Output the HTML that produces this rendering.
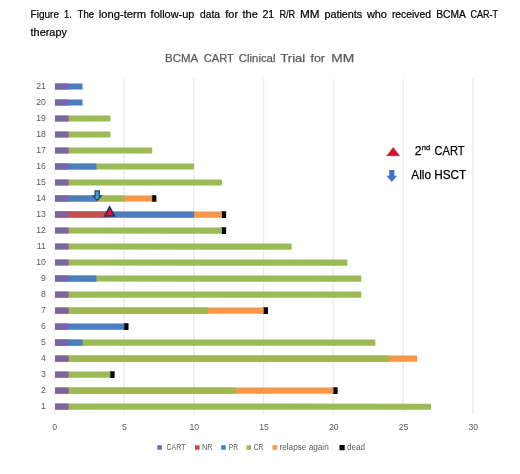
<!DOCTYPE html>
<html lang="en"><head><meta charset="utf-8"><title>Figure 1</title>
<style>html,body{margin:0;padding:0;background:#fff;}body{width:520px;height:474px;overflow:hidden;}svg{display:block;}text{font-family:"Liberation Sans",sans-serif;}</style></head><body>
<svg width="520" height="474" viewBox="0 0 520 474">
<rect width="520" height="474" fill="#fff"/>
<g transform="matrix(1,0.0002,0,1,0,0)">
<text y="18" font-size="11" fill="#000" stroke="#000" stroke-width="0.22"><tspan x="30.60" textLength="28.40" lengthAdjust="spacingAndGlyphs">Figure</tspan> <tspan x="64.10" textLength="7.90" lengthAdjust="spacingAndGlyphs">1.</tspan> <tspan x="77.60" textLength="16.60" lengthAdjust="spacingAndGlyphs">The</tspan> <tspan x="98.80" textLength="47.20" lengthAdjust="spacingAndGlyphs">long-term</tspan> <tspan x="150.60" textLength="43.80" lengthAdjust="spacingAndGlyphs">follow-up</tspan> <tspan x="200.00" textLength="20.00" lengthAdjust="spacingAndGlyphs">data</tspan> <tspan x="225.25" textLength="12.85" lengthAdjust="spacingAndGlyphs">for</tspan> <tspan x="242.50" textLength="15.50" lengthAdjust="spacingAndGlyphs">the</tspan> <tspan x="262.50" textLength="11.70" lengthAdjust="spacingAndGlyphs">21</tspan> <tspan x="279.40" textLength="15.85" lengthAdjust="spacingAndGlyphs">R/R</tspan> <tspan x="300.00" textLength="19.60" lengthAdjust="spacingAndGlyphs">MM</tspan> <tspan x="324.40" textLength="37.85" lengthAdjust="spacingAndGlyphs">patients</tspan> <tspan x="366.90" textLength="20.00" lengthAdjust="spacingAndGlyphs">who</tspan> <tspan x="391.90" textLength="39.10" lengthAdjust="spacingAndGlyphs">received</tspan> <tspan x="436.25" textLength="28.95" lengthAdjust="spacingAndGlyphs">BCMA</tspan> <tspan x="470.60" textLength="27.50" lengthAdjust="spacingAndGlyphs">CAR-T</tspan></text>
<text x="30.6" y="35.6" font-size="11" fill="#000" stroke="#000" stroke-width="0.22" textLength="36.3" lengthAdjust="spacingAndGlyphs">therapy</text>
<text y="62.2" font-size="11.6" fill="#595959" stroke="#595959" stroke-width="0.25"><tspan x="165.00" textLength="32.50" lengthAdjust="spacingAndGlyphs">BCMA</tspan> <tspan x="203.75" textLength="30.00" lengthAdjust="spacingAndGlyphs">CART</tspan> <tspan x="238.75" textLength="36.75" lengthAdjust="spacingAndGlyphs">Clinical</tspan> <tspan x="280.50" textLength="24.50" lengthAdjust="spacingAndGlyphs">Trial</tspan> <tspan x="310.50" textLength="14.50" lengthAdjust="spacingAndGlyphs">for</tspan> <tspan x="331.25" textLength="23.00" lengthAdjust="spacingAndGlyphs">MM</tspan></text>
<rect x="53.50" y="78.40" width="1.5" height="335.80" fill="#F4F4F4"/>
<rect x="123.27" y="78.40" width="1.5" height="335.80" fill="#EDEDED"/>
<rect x="193.03" y="78.40" width="1.5" height="335.80" fill="#EDEDED"/>
<rect x="262.79" y="78.40" width="1.5" height="335.80" fill="#EDEDED"/>
<rect x="332.56" y="78.40" width="1.5" height="335.80" fill="#EDEDED"/>
<rect x="402.32" y="78.40" width="1.5" height="335.80" fill="#EDEDED"/>
<rect x="472.09" y="78.40" width="1.5" height="335.80" fill="#EDEDED"/>
<rect x="55.10" y="403.55" width="375.93" height="6.1" fill="#99BA56"/>
<rect x="55.10" y="403.55" width="13.49" height="6.1" fill="#7F62A3"/>
<rect x="332.75" y="387.30" width="4.88" height="6.6" fill="#000000"/>
<rect x="55.10" y="387.55" width="278.35" height="6.1" fill="#F79646"/>
<rect x="55.10" y="387.55" width="180.77" height="6.1" fill="#99BA56"/>
<rect x="55.10" y="387.55" width="13.49" height="6.1" fill="#7F62A3"/>
<rect x="109.71" y="371.29" width="4.88" height="6.6" fill="#000000"/>
<rect x="55.10" y="371.54" width="55.31" height="6.1" fill="#99BA56"/>
<rect x="55.10" y="371.54" width="13.49" height="6.1" fill="#7F62A3"/>
<rect x="55.10" y="355.54" width="361.99" height="6.1" fill="#F79646"/>
<rect x="55.10" y="355.54" width="334.11" height="6.1" fill="#99BA56"/>
<rect x="55.10" y="355.54" width="13.49" height="6.1" fill="#7F62A3"/>
<rect x="55.10" y="339.53" width="320.17" height="6.1" fill="#99BA56"/>
<rect x="55.10" y="339.53" width="27.43" height="6.1" fill="#4A7EC2"/>
<rect x="55.10" y="339.53" width="13.49" height="6.1" fill="#7F62A3"/>
<rect x="123.65" y="323.28" width="4.88" height="6.6" fill="#000000"/>
<rect x="55.10" y="323.53" width="69.25" height="6.1" fill="#4A7EC2"/>
<rect x="55.10" y="323.53" width="13.49" height="6.1" fill="#7F62A3"/>
<rect x="263.05" y="307.27" width="4.88" height="6.6" fill="#000000"/>
<rect x="55.10" y="307.52" width="208.65" height="6.1" fill="#F79646"/>
<rect x="55.10" y="307.52" width="152.89" height="6.1" fill="#99BA56"/>
<rect x="55.10" y="307.52" width="13.49" height="6.1" fill="#7F62A3"/>
<rect x="55.10" y="291.52" width="306.23" height="6.1" fill="#99BA56"/>
<rect x="55.10" y="291.52" width="13.49" height="6.1" fill="#7F62A3"/>
<rect x="55.10" y="275.51" width="306.23" height="6.1" fill="#99BA56"/>
<rect x="55.10" y="275.51" width="41.37" height="6.1" fill="#4A7EC2"/>
<rect x="55.10" y="275.51" width="13.49" height="6.1" fill="#7F62A3"/>
<rect x="55.10" y="259.51" width="292.29" height="6.1" fill="#99BA56"/>
<rect x="55.10" y="259.51" width="13.49" height="6.1" fill="#7F62A3"/>
<rect x="55.10" y="243.50" width="236.53" height="6.1" fill="#99BA56"/>
<rect x="55.10" y="243.50" width="13.49" height="6.1" fill="#7F62A3"/>
<rect x="221.23" y="227.25" width="4.88" height="6.6" fill="#000000"/>
<rect x="55.10" y="227.50" width="166.83" height="6.1" fill="#99BA56"/>
<rect x="55.10" y="227.50" width="13.49" height="6.1" fill="#7F62A3"/>
<rect x="221.23" y="211.24" width="4.88" height="6.6" fill="#000000"/>
<rect x="55.10" y="211.49" width="166.83" height="6.1" fill="#F79646"/>
<rect x="55.10" y="211.49" width="138.95" height="6.1" fill="#4A7EC2"/>
<rect x="55.10" y="211.49" width="55.31" height="6.1" fill="#C44E4A"/>
<rect x="55.10" y="211.49" width="13.49" height="6.1" fill="#7F62A3"/>
<rect x="151.53" y="195.24" width="4.88" height="6.6" fill="#000000"/>
<rect x="55.10" y="195.49" width="97.13" height="6.1" fill="#F79646"/>
<rect x="55.10" y="195.49" width="69.25" height="6.1" fill="#99BA56"/>
<rect x="55.10" y="195.49" width="41.37" height="6.1" fill="#4A7EC2"/>
<rect x="55.10" y="195.49" width="13.49" height="6.1" fill="#7F62A3"/>
<rect x="55.10" y="179.48" width="166.83" height="6.1" fill="#99BA56"/>
<rect x="55.10" y="179.48" width="13.49" height="6.1" fill="#7F62A3"/>
<rect x="55.10" y="163.48" width="138.95" height="6.1" fill="#99BA56"/>
<rect x="55.10" y="163.48" width="41.37" height="6.1" fill="#4A7EC2"/>
<rect x="55.10" y="163.48" width="13.49" height="6.1" fill="#7F62A3"/>
<rect x="55.10" y="147.47" width="97.13" height="6.1" fill="#99BA56"/>
<rect x="55.10" y="147.47" width="13.49" height="6.1" fill="#7F62A3"/>
<rect x="55.10" y="131.47" width="55.31" height="6.1" fill="#99BA56"/>
<rect x="55.10" y="131.47" width="13.49" height="6.1" fill="#7F62A3"/>
<rect x="55.10" y="115.46" width="55.31" height="6.1" fill="#99BA56"/>
<rect x="55.10" y="115.46" width="13.49" height="6.1" fill="#7F62A3"/>
<rect x="55.10" y="99.46" width="27.43" height="6.1" fill="#4A7EC2"/>
<rect x="55.10" y="99.46" width="13.49" height="6.1" fill="#7F62A3"/>
<rect x="55.10" y="83.45" width="27.43" height="6.1" fill="#4A7EC2"/>
<rect x="55.10" y="83.45" width="13.49" height="6.1" fill="#7F62A3"/>
<text x="45.9" y="409.45" font-size="8.7" fill="#595959"  text-anchor="end">1</text>
<text x="45.9" y="393.45" font-size="8.7" fill="#595959"  text-anchor="end">2</text>
<text x="45.9" y="377.44" font-size="8.7" fill="#595959"  text-anchor="end">3</text>
<text x="45.9" y="361.44" font-size="8.7" fill="#595959"  text-anchor="end">4</text>
<text x="45.9" y="345.43" font-size="8.7" fill="#595959"  text-anchor="end">5</text>
<text x="45.9" y="329.43" font-size="8.7" fill="#595959"  text-anchor="end">6</text>
<text x="45.9" y="313.42" font-size="8.7" fill="#595959"  text-anchor="end">7</text>
<text x="45.9" y="297.42" font-size="8.7" fill="#595959"  text-anchor="end">8</text>
<text x="45.9" y="281.41" font-size="8.7" fill="#595959"  text-anchor="end">9</text>
<text x="45.9" y="265.41" font-size="8.7" fill="#595959"  text-anchor="end">10</text>
<text x="45.9" y="249.40" font-size="8.7" fill="#595959"  text-anchor="end">11</text>
<text x="45.9" y="233.40" font-size="8.7" fill="#595959"  text-anchor="end">12</text>
<text x="45.9" y="217.39" font-size="8.7" fill="#595959"  text-anchor="end">13</text>
<text x="45.9" y="201.39" font-size="8.7" fill="#595959"  text-anchor="end">14</text>
<text x="45.9" y="185.38" font-size="8.7" fill="#595959"  text-anchor="end">15</text>
<text x="45.9" y="169.38" font-size="8.7" fill="#595959"  text-anchor="end">16</text>
<text x="45.9" y="153.37" font-size="8.7" fill="#595959"  text-anchor="end">17</text>
<text x="45.9" y="137.37" font-size="8.7" fill="#595959"  text-anchor="end">18</text>
<text x="45.9" y="121.36" font-size="8.7" fill="#595959"  text-anchor="end">19</text>
<text x="45.9" y="105.36" font-size="8.7" fill="#595959"  text-anchor="end">20</text>
<text x="45.9" y="89.35" font-size="8.7" fill="#595959"  text-anchor="end">21</text>
<text x="54.75" y="429.7" font-size="8.7" fill="#595959"  text-anchor="middle">0</text>
<text x="124.52" y="429.7" font-size="8.7" fill="#595959"  text-anchor="middle">5</text>
<text x="194.28" y="429.7" font-size="8.7" fill="#595959"  text-anchor="middle">10</text>
<text x="264.04" y="429.7" font-size="8.7" fill="#595959"  text-anchor="middle">15</text>
<text x="333.81" y="429.7" font-size="8.7" fill="#595959"  text-anchor="middle">20</text>
<text x="403.57" y="429.7" font-size="8.7" fill="#595959"  text-anchor="middle">25</text>
<text x="473.34" y="429.7" font-size="8.7" fill="#595959"  text-anchor="middle">30</text>
<rect x="157.3" y="445.20" width="4.6" height="4.6" fill="#7F62A3"/>
<text x="166.5" y="449.7" font-size="8.3" fill="#595959"  textLength="19.0" lengthAdjust="spacingAndGlyphs">CART</text>
<rect x="195" y="445.20" width="4.6" height="4.6" fill="#C44E4A"/>
<text x="202" y="449.7" font-size="8.3" fill="#595959"  textLength="10.5" lengthAdjust="spacingAndGlyphs">NR</text>
<rect x="221.2" y="445.20" width="4.6" height="4.6" fill="#4A7EC2"/>
<text x="228.75" y="449.7" font-size="8.3" fill="#595959"  textLength="9.25" lengthAdjust="spacingAndGlyphs">PR</text>
<rect x="246.4" y="445.20" width="4.6" height="4.6" fill="#99BA56"/>
<text x="253.75" y="449.7" font-size="8.3" fill="#595959"  textLength="9.5" lengthAdjust="spacingAndGlyphs">CR</text>
<rect x="272.5" y="445.20" width="4.6" height="4.6" fill="#F79646"/>
<text x="279.5" y="449.7" font-size="8.3" fill="#595959"  textLength="49.25" lengthAdjust="spacingAndGlyphs">relapse again</text>
<rect x="339.5" y="444.90" width="5.2" height="5.2" fill="#000000"/>
<text x="347" y="449.7" font-size="8.3" fill="#595959"  textLength="18" lengthAdjust="spacingAndGlyphs">dead</text>
<polygon points="393.2,147.2 399.9,155.8 386.5,155.8" fill="#E0101E" stroke="#8A86B8" stroke-width="0.6"/>
<text y="154.6" font-size="12.4" fill="#000" stroke="#000" stroke-width="0.25"><tspan x="414.8">2</tspan><tspan dy="-4.2" font-size="7.6">nd</tspan> <tspan dy="4.2" font-size="12.4" x="434.5" textLength="30" lengthAdjust="spacingAndGlyphs">CART</tspan></text>
<text x="411.3" y="179.2" font-size="12.4" fill="#000" stroke="#000" stroke-width="0.25" textLength="55" lengthAdjust="spacingAndGlyphs">Allo HSCT</text>
<path d="M389.2 169.8h5.2v5.9h2.7l-5.3 6.3l-5.3-6.3h2.7z" fill="#4472C4"/>
<path d="M95.1 190.8h4.2v5.2h1.9l-4 4.4l-4-4.4h1.9z" fill="#3BA0DC" stroke="#2A456F" stroke-width="1.3" stroke-linejoin="miter"/>
<polygon points="109.6,206.9 114.5,216 104.7,216" fill="#F0102A" stroke="#2E2F63" stroke-width="1.6" stroke-linejoin="miter"/>
</g>
</svg></body></html>
